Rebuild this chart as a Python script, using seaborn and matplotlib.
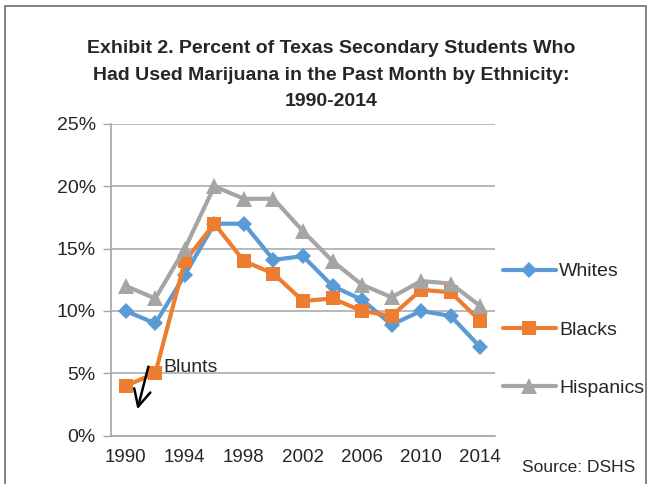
import pandas as pd
import matplotlib.pyplot as plt
import seaborn as sns
from matplotlib.patches import Rectangle
from matplotlib.ticker import FuncFormatter

# Данные (в процентах)
years = [1990, 1992, 1994, 1996, 1998, 2000, 2002, 2004, 2006, 2008, 2010, 2012, 2014]
whites = [10.0, 9.0, 12.9, 17.0, 17.0, 14.1, 14.4, 12.0, 10.9, 8.9, 10.0, 9.6, 7.1]
blacks = [4.0, 5.0, 14.0, 17.0, 14.0, 13.0, 10.8, 11.0, 10.0, 9.6, 11.7, 11.5, 9.2]
hispanics = [12.0, 11.0, 15.0, 20.0, 19.0, 19.0, 16.4, 14.0, 12.1, 11.1, 12.4, 12.2, 10.4]
groups = ["Whites", "Blacks", "Hispanics"]
colors = ["#5B9BD5", "#ED7D31", "#A5A5A5"]
markers = ["D", "s", "^"]
msizes = [8, 10, 11]

title = ("Exhibit 2. Percent of Texas Secondary Students Who\n"
         "Had Used Marijuana in the Past Month by Ethnicity:\n"
         "1990-2014")

sns.set_style("white")
plt.rcParams['font.family'] = ['Liberation Sans Narrow', 'Liberation Sans', 'DejaVu Sans']

fig = plt.figure(figsize=(6.52, 4.84), dpi=100)
ax = fig.add_axes([111 / 652, 1 - 435.6 / 484, (495 - 111) / 652, (435.6 - 124) / 484])

idx = list(range(len(years)))
for name, vals, c, m, ms in zip(groups, [whites, blacks, hispanics], colors, markers, msizes):
    df = pd.DataFrame({"i": idx, "pct": vals})
    sns.lineplot(data=df, x="i", y="pct", ax=ax, color=c, lw=3, marker=m,
                 markersize=ms, markeredgewidth=0, label=name)

grid_c = "#A6A6A6"
ax.set_ylim(0, 25)
ax.set_xlim(-0.5, 12.5)
ax.set_yticks([0, 5, 10, 15, 20, 25])
ax.yaxis.set_major_formatter(FuncFormatter(lambda v, p: f"{v:.0f}%"))
ax.set_xticks(idx[::2])
ax.set_xticklabels([str(y) for y in years[::2]])
ax.set_xticks([i - 0.5 for i in range(len(years) + 1)], minor=True)
ax.tick_params(axis="x", which="major", length=0, pad=10, labelsize=13.5)
ax.tick_params(axis="x", which="minor", length=5, width=1, color=grid_c)
ax.tick_params(axis="y", length=6, width=1, color=grid_c, pad=5, labelsize=14, left=True)
ax.set_xlabel("")
ax.set_ylabel("")
ax.grid(axis="y", color=grid_c, lw=1.1)
ax.set_axisbelow(True)
for s in ["top", "right"]:
    ax.spines[s].set_visible(False)
for s in ["left", "bottom"]:
    ax.spines[s].set_color(grid_c)
    ax.spines[s].set_linewidth(1.2)

# Аннотация
ax.text(1.26, 5.5, "Blunts", va="center", ha="left", fontsize=14)
ax.annotate("", xy=(0.37, 1.9), xytext=(0.79, 5.75),
            arrowprops=dict(arrowstyle="->", color="black", lw=1.8, mutation_scale=30))

handles, labels = ax.get_legend_handles_labels()
ax.get_legend().remove()
fig.legend(handles, labels, loc="center left", bbox_to_anchor=(503 / 652, 1 - 330 / 484),
           frameon=False, fontsize=14, handlelength=2.7, handletextpad=0.2,
           labelspacing=2.1, borderpad=0, borderaxespad=0)

fig.text(331 / 652, 1 - 75 / 484, title, ha="center", va="center", fontsize=14,
         fontweight="bold", linespacing=1.75)
fig.text(522 / 652, 1 - 467 / 484, "Source: DSHS", ha="left", va="center", fontsize=12.5)

fig.patches.append(Rectangle((5 / 652, -0.1), (646 - 5) / 652, (484 - 6) / 484 + 0.1,
                             transform=fig.transFigure, fill=False, edgecolor="#6d6d6d", lw=1.2))

fig.savefig("out.png", dpi=100)
